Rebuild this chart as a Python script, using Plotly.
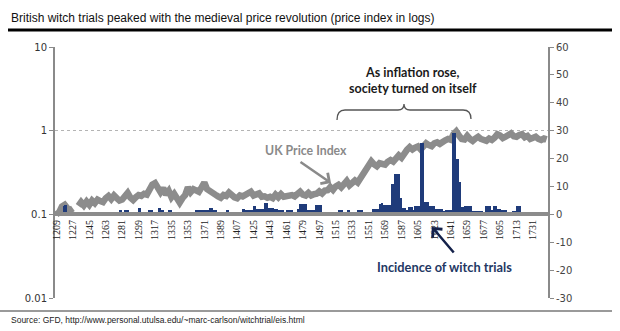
import plotly.graph_objects as go

# ---------------- data ----------------
price_years = list(range(1209, 1747, 3))
price_index = [
    0.100, 0.106, 0.124, 0.130, 0.118, 0.112, 0.118, None, 0.126, 0.140,
    0.128, 0.142, 0.130, 0.146, 0.136, 0.150, 0.144, 0.140, 0.156, 0.166,
    0.152, 0.168, 0.156, 0.146, 0.150, 0.162, 0.180, 0.158, 0.148, 0.160,
    0.170, 0.166, 0.176, 0.172, 0.200, 0.226, 0.236, 0.208, 0.184, 0.206,
    0.172, 0.190, 0.160, 0.176, 0.150, 0.138, 0.156, 0.170, 0.210, 0.184,
    0.200, 0.196, 0.186, 0.210, 0.240, 0.200, 0.190, 0.172, 0.172, 0.164,
    0.158, 0.170, 0.166, 0.182, 0.168, 0.160, 0.156, 0.168, 0.164, 0.172,
    0.174, 0.186, 0.168, 0.172, 0.178, 0.162, 0.164, 0.158, 0.162, 0.156,
    0.172, 0.160, 0.174, 0.162, 0.164, 0.172, 0.170, 0.164, 0.180, 0.186,
    0.172, 0.168, 0.180, 0.168, 0.174, 0.176, 0.188, 0.178, 0.192, 0.194,
    0.212, 0.196, 0.216, 0.226, 0.210, 0.236, 0.250, 0.222, 0.240, 0.254,
    0.240, 0.266, 0.300, 0.350, 0.390, 0.430, 0.396, 0.376, 0.408, 0.404,
    0.392, 0.426, 0.446, 0.426, 0.476, 0.506, 0.474, 0.546, 0.590, 0.636,
    0.596, 0.628, 0.648, 0.596, 0.668, 0.706, 0.672, 0.654, 0.708, 0.726,
    0.696, 0.746, 0.766, 0.796, 0.776, 0.906, 0.980, 0.874, 0.796, 0.786,
    0.866, 0.796, 0.756, 0.806, 0.846, 0.796, 0.786, 0.756, 0.806, 0.776,
    0.826, 0.906, 0.876, 0.816, 0.846, 0.886, 0.926, 0.856, 0.846, 0.886,
    0.906, 0.836, 0.866, 0.796, 0.826, 0.846, 0.796, 0.776, 0.806, 0.786,
]

trial_years = [
    1217, 1218, 1219, 1220,
    1278, 1279, 1280, 1284, 1285, 1286, 1287,
    1299, 1300, 1301, 1310, 1311, 1312, 1313, 1314,
    1321, 1322, 1323, 1324, 1325, 1326, 1332, 1333, 1334, 1335,
    1362, 1363, 1364, 1365, 1366, 1367, 1368, 1369, 1370, 1371, 1372, 1373, 1374, 1375,
    1377, 1378, 1379, 1380, 1381, 1382, 1383, 1384,
    1396, 1397,
    1413, 1414, 1415, 1416, 1417, 1418, 1419, 1420, 1421, 1422, 1423, 1424,
    1425, 1426, 1427, 1428, 1429, 1430, 1431, 1432, 1433, 1434, 1435,
    1437, 1438, 1439, 1440, 1441, 1442, 1443, 1444, 1445, 1446,
    1447, 1448, 1449, 1450, 1451, 1452, 1453, 1454, 1455, 1456, 1457,
    1462, 1463, 1464, 1465, 1466, 1467,
    1473, 1474, 1475, 1476, 1477, 1478, 1479, 1480, 1481, 1482, 1483, 1484, 1485, 1486,
    1488, 1489, 1490, 1491, 1493, 1494, 1495, 1496, 1497, 1498, 1499,
    1518, 1519, 1520, 1521, 1522, 1528, 1529, 1530,
    1539, 1540, 1541, 1542, 1543, 1544,
    1556, 1557, 1558, 1559, 1560, 1561, 1562, 1563, 1564, 1565, 1566,
    1567, 1568, 1569, 1570, 1571, 1572, 1573, 1574, 1575, 1576,
    1577, 1578, 1579, 1580, 1581, 1582, 1583, 1584, 1585, 1586,
    1587, 1588, 1589, 1590, 1591, 1592, 1593, 1594, 1595, 1596, 1597, 1598, 1599,
    1600, 1601, 1602, 1603, 1604, 1605, 1606, 1607,
    1608, 1609, 1610, 1611, 1612, 1613, 1614, 1615, 1616,
    1617, 1618, 1619, 1620, 1621, 1622, 1623, 1624, 1625, 1626, 1627, 1628, 1629, 1630, 1631,
    1632, 1633, 1634, 1635, 1636, 1637, 1638, 1639, 1640, 1641, 1642,
    1643, 1644, 1645, 1646, 1647, 1648, 1649, 1650, 1651,
    1652, 1653, 1654, 1655, 1656, 1657, 1658, 1659, 1660, 1661, 1662, 1663,
    1664, 1665, 1666, 1667, 1668, 1669, 1670, 1671, 1672, 1673, 1674, 1675,
    1680, 1681, 1682, 1683, 1684, 1685, 1686, 1687, 1688, 1689, 1690, 1691,
    1692, 1693, 1694, 1695, 1696, 1697, 1698, 1699, 1700, 1701, 1702,
    1709, 1710, 1711, 1714, 1715, 1716, 1717,
]
trial_counts = [
    2.9, 3.4, 3.4, 3.2,
    1.4, 1.6, 1.4, 1.6, 1.6, 1.6, 1.6,
    2.1, 2.1, 2.1, 1.4, 1.4, 1.4, 1.4, 1.4,
    2.1, 2.1, 2.1, 1.5, 1.7, 1.5, 1.4, 1.4, 1.4, 1.4,
    1.4, 1.4, 1.4, 1.4, 1.4, 1.4, 1.4, 1.4, 1.4, 1.4, 1.4, 1.4, 1.4, 1.4,
    2.3, 2.3, 2.3, 2.3, 1.4, 1.4, 1.4, 1.4,
    1.5, 1.5,
    1.9, 1.9, 1.9, 1.4, 1.4, 1.4, 1.4, 1.4, 1.4, 1.4, 1.4, 1.4,
    3.1, 3.1, 3.1, 1.9, 1.9, 1.9, 1.9, 1.9, 1.9, 1.9, 1.9,
    4.0, 4.0, 4.0, 4.0, 2.4, 2.4, 2.4, 2.4, 2.4, 2.4,
    1.9, 1.9, 1.9, 1.9, 1.9, 1.4, 1.4, 1.4, 1.4, 1.4, 1.4,
    1.4, 1.4, 1.4, 1.4, 1.4, 1.4,
    1.9, 1.9, 1.9, 3.8, 3.8, 3.8, 3.8, 3.8, 3.8, 3.8, 1.6, 1.6, 1.6, 1.6,
    1.4, 1.4, 1.4, 1.4, 3.4, 3.4, 3.4, 3.4, 3.4, 3.4, 3.4,
    1.4, 1.4, 1.4, 1.4, 1.4, 1.4, 1.4, 1.4,
    1.4, 1.4, 1.4, 1.4, 1.4, 1.4,
    1.9, 1.9, 1.9, 1.9, 1.9, 1.9, 1.9, 3.6, 3.6, 3.6, 3.9,
    3.3, 3.3, 3.5, 3.1, 3.3, 3.0, 3.5, 3.3, 3.1, 3.3,
    10.7, 10.7, 10.7, 14.5, 14.5, 14.5, 14.5, 14.5, 5.7, 5.7,
    2.1, 2.1, 2.1, 2.1, 2.1, 1.4, 1.4, 1.4, 2.7, 2.7, 2.7, 2.7, 2.7,
    1.6, 1.6, 2.9, 2.9, 2.9, 2.9, 2.9, 2.9,
    25.6, 25.6, 25.6, 25.6, 4.6, 4.6, 4.6, 4.6, 4.6,
    3.0, 3.0, 3.0, 3.0, 3.0, 3.0, 3.0, 1.9, 1.9, 1.9, 1.9, 1.9, 1.9, 1.9, 1.9,
    1.2, 1.2, 1.2, 1.2, 1.4, 1.4, 1.4, 1.4, 1.4, 1.4, 1.4,
    29.0, 29.0, 29.0, 29.0, 20.0, 20.0, 20.0, 11.5, 11.5,
    2.6, 2.6, 2.6, 2.6, 2.9, 2.9, 2.9, 2.9, 2.9, 2.9, 2.9, 2.9,
    1.2, 1.2, 1.2, 1.2, 1.2, 1.2, 1.2, 1.3, 1.3, 1.3, 1.3, 1.3,
    2.9, 2.9, 2.9, 2.9, 2.9, 1.4, 1.4, 1.4, 2.9, 2.9, 2.9, 2.9,
    1.9, 1.9, 1.9, 1.9, 1.4, 1.4, 1.4, 1.4, 1.4, 1.4, 1.4,
    1.3, 1.3, 1.3, 2.9, 2.9, 2.9, 2.9,
]

year_ticks = list(range(1209, 1732, 18))
left_ticks = [0.01, 0.1, 1, 10]
left_labels = ["0.01", "0.1", "1", "10"]
right_ticks = [-30, -20, -10, 0, 10, 20, 30, 40, 50, 60]
right_labels = ["-30", "-20", "-10", "0", "10", "20", "30", "40", "50", "60"]

# ---------------- layout helpers (pixel -> paper) ----------------
W, H = 620, 331
ML, MR, MT, MB = 55, 72, 47, 33
PW, PH = W - ML - MR, H - MT - MB


def px(x):
    return (x - ML) / PW


def py(y):
    return (H - MB - y) / PH


GRAY = "#8C8C8C"
NAVY = "#1F3B7A"

fig = go.Figure()
fig.add_trace(go.Scatter(
    x=price_years, y=price_index, mode="lines", yaxis="y",
    line=dict(color=GRAY, width=6.5), connectgaps=False,
    name="UK Price Index", showlegend=False,
))
fig.add_trace(go.Bar(
    x=trial_years, y=trial_counts, yaxis="y2", width=0.95,
    marker=dict(color=NAVY, line=dict(width=0)),
    name="Incidence of witch trials", showlegend=False,
))

fig.update_layout(
    width=W, height=H,
    margin=dict(l=ML, r=MR, t=MT, b=MB, pad=0),
    paper_bgcolor="white", plot_bgcolor="white",
    bargap=0,
    xaxis=dict(
        range=[1207.4, 1747.5], tickmode="array", tickvals=year_ticks,
        tickangle=-90, ticks="", showgrid=False, zeroline=False,
        anchor="free", position=1 / 3,
        showline=True, linecolor=GRAY, linewidth=3.5,
        tickfont=dict(family="Liberation Serif", size=10, color="#222"),
    ),
    yaxis=dict(
        type="log", range=[-2, 1], tickmode="array", tickvals=left_ticks,
        ticktext=left_labels, showgrid=True, gridcolor="#B4B4B4", griddash="dot",
        gridwidth=1, showline=True, linecolor="#8A8A8A", linewidth=2,
        ticks="outside", ticklen=4, tickcolor="#8A8A8A", zeroline=False,
        tickfont=dict(family="DejaVu Sans", size=10, color="#333"),
    ),
    yaxis2=dict(
        overlaying="y", side="right", range=[-30, 60], tickmode="array",
        tickvals=right_ticks, ticktext=right_labels, showgrid=False,
        zeroline=False, showline=True, linecolor="#8A8A8A", linewidth=2,
        ticks="outside", ticklen=4, tickcolor="#8A8A8A",
        tickfont=dict(family="DejaVu Sans", size=10, color="#444"),
    ),
)

# title and rules
fig.add_annotation(
    text="British witch trials peaked with the medieval price revolution (price index in logs)",
    xref="paper", yref="paper", x=px(9), y=py(18), xanchor="left", yanchor="middle",
    showarrow=False, font=dict(family="Liberation Sans", size=12, color="#111"),
)
fig.add_shape(type="line", xref="paper", yref="paper", x0=px(8), x1=px(612),
              y0=py(30), y1=py(30), line=dict(color="#000", width=3))
fig.add_shape(type="line", xref="paper", yref="paper", x0=px(0), x1=px(612),
              y0=py(311), y1=py(311), line=dict(color="#9A9A9A", width=2))
fig.add_annotation(
    text="Source: GFD, http://www.personal.utulsa.edu/~marc-carlson/witchtrial/eis.html",
    xref="paper", yref="paper", x=px(9), y=py(320), xanchor="left", yanchor="middle",
    showarrow=False, font=dict(family="Liberation Sans", size=8.5, color="#222"),
)

# annotations in the plot
fig.add_annotation(
    text="<b>As inflation rose,<br>society turned on itself</b>",
    xref="paper", yref="paper", x=px(413), y=py(80), xanchor="center", yanchor="middle",
    showarrow=False, align="center",
    font=dict(family="Lato", size=12.5, color="#1A1A1A"),
)
brace = (
    f"M {px(337)},{py(120)} Q {px(337)},{py(110)} {px(345)},{py(110)} "
    f"L {px(398)},{py(110)} Q {px(404)},{py(110)} {px(404)},{py(104)} "
    f"Q {px(404)},{py(110)} {px(410)},{py(110)} L {px(463)},{py(110)} "
    f"Q {px(471)},{py(110)} {px(471)},{py(119)}"
)
fig.add_shape(type="path", xref="paper", yref="paper", path=brace,
              line=dict(color="#555", width=1.3))

fig.add_annotation(
    text="<b>UK Price Index</b>", xref="paper", yref="paper",
    x=px(306), y=py(150), xanchor="center", yanchor="middle", showarrow=False,
    font=dict(family="Lato", size=12.3, color="#8A8A8A"),
)
fig.add_annotation(
    text="", xref="paper", yref="paper", x=px(331), y=py(183),
    ax=-32, ay=-22, showarrow=True, arrowhead=4, arrowsize=1, arrowwidth=2.5,
    arrowcolor="#8A8A8A",
)
fig.add_annotation(
    text="<b>Incidence of witch trials</b>", xref="paper", yref="paper",
    x=px(444), y=py(267), xanchor="center", yanchor="middle", showarrow=False,
    font=dict(family="Lato", size=12.8, color="#1F3864"),
)
fig.add_annotation(
    text="", xref="paper", yref="paper", x=px(432), y=py(227),
    ax=23, ay=27, showarrow=True, arrowhead=4, arrowsize=1, arrowwidth=2.5,
    arrowcolor="#14214A",
)

fig.write_html("out.html")
